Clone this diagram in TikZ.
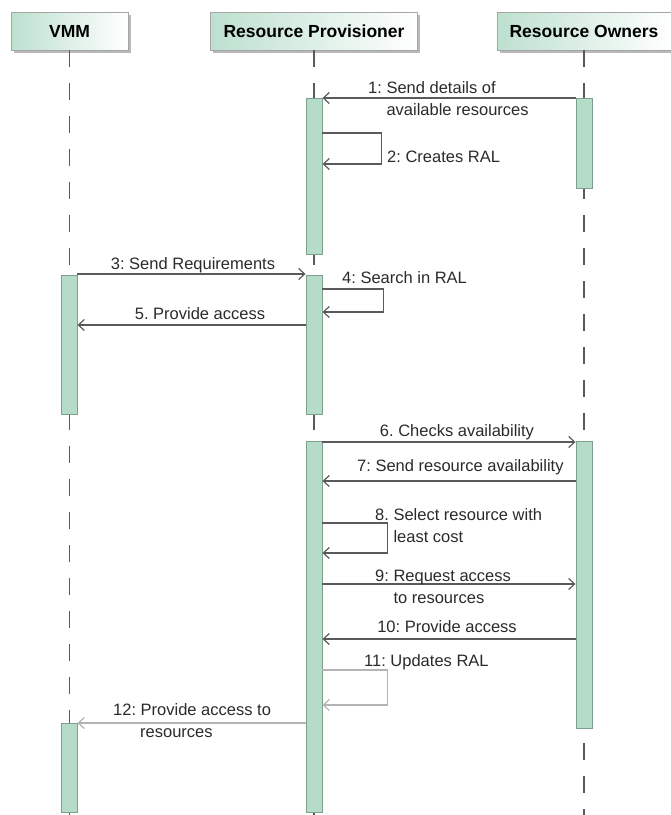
\documentclass[tikz,border=0pt]{standalone}
\usepackage{fontspec}
\setmainfont{Liberation Sans}
\usetikzlibrary{arrows.meta,shadows}
\definecolor{barfill}{HTML}{B5DCC8}
\definecolor{barline}{HTML}{7E9E8E}
\definecolor{headfill}{HTML}{BDE0CF}
\definecolor{msgline}{HTML}{5A5A5A}
\definecolor{faint}{HTML}{B4B4B4}
\definecolor{txt}{HTML}{2A2A2A}
\frenchspacing
\begin{document}
\begin{tikzpicture}[x=1pt,y=-1pt,
 head/.style={draw=gray!70, left color=headfill, right color=white, minimum height=38pt, inner sep=0pt,
   font=\fontsize{17.5}{20}\selectfont\bfseries,
   drop shadow={shadow xshift=2.5pt,shadow yshift=-2.5pt,fill=gray!55,opacity=1}},
 life/.style={draw=msgline, line width=1.2pt, dash pattern=on 17pt off 16pt},
 bar/.style={draw=barline, fill=barfill, line width=0.9pt, minimum width=16pt, inner sep=0pt, anchor=north},
 msg/.style={draw=msgline, line width=1.4pt, -{Straight Barb[length=6pt,width=11pt,line width=1.2pt]}},
 faintmsg/.style={msg, draw=faint},
 lbl/.style={font=\fontsize{16.5}{22}\selectfont\frenchspacing, text=txt, inner sep=0pt},
]
\useasboundingbox (0,0) rectangle (671,815);
% headers
\node[head, minimum width=117pt] (vmm) at (69.5,31) {VMM};
\node[head, minimum width=207pt] (rp) at (314,31) {Resource Provisioner};
\node[head, minimum width=174pt] (ro) at (584,31) {Resource Owners};
% bottom
\coordinate (bottom) at (0,815);
% lifelines
\draw[life] (vmm.south) -- (vmm.south |- bottom);
\draw[life] (rp.south) -- (rp.south |- bottom);
\draw[life] (ro.south) -- (ro.south |- bottom);
% activation bars
\node[bar, minimum height=156pt] (rpA) at (314,98) {};
\node[bar, minimum height=90pt] (roA) at (584,98) {};
\node[bar, minimum height=139pt] (vmA) at (69,275) {};
\node[bar, minimum height=139pt] (rpB) at (314,275) {};
\node[bar, minimum height=371pt] (rpC) at (314,441) {};
\node[bar, minimum height=287pt] (roB) at (584,441) {};
\node[bar, minimum height=89pt] (vmB) at (69,723) {};
% message levels
\coordinate (y2a) at (0,133); \coordinate (y2b) at (0,164);
\coordinate (y3) at (0,274);
\coordinate (y4a) at (0,289); \coordinate (y4b) at (0,312);
\coordinate (y5) at (0,325);
\coordinate (y6) at (0,442);
\coordinate (y7) at (0,481);
\coordinate (y8a) at (0,523); \coordinate (y8b) at (0,553);
\coordinate (y9) at (0,584);
\coordinate (y10) at (0,639);
\coordinate (y11a) at (0,670); \coordinate (y11b) at (0,705);
% 1
\draw[msg] (roA.north west) -- (rpA.north east);
\node[lbl, anchor=west, align=left] (l1) at (368,99) {1: Send details of\\\hphantom{1: }available resources};
% 2
\draw[msg] (rpA.east |- y2a) -- ++(59,0) |- (rpA.east |- y2b);
\node[lbl, anchor=west] (l2) at (387,157) {2: Creates RAL};
% 3
\draw[msg] (vmA.east |- y3) -- (rpB.west |- y3);
\node[lbl] (l3) at (193,265) {3: Send Requirements};
% 4
\draw[msg] (rpB.east |- y4a) -- ++(61,0) |- (rpB.east |- y4b);
\node[lbl, anchor=west] (l4) at (342,278) {4: Search in RAL};
% 5
\draw[msg] (rpB.west |- y5) -- (vmA.east |- y5);
\node[lbl] (l5) at (200,314) {5. Provide access};
% 6
\draw[msg] (rpC.east |- y6) -- (roB.west |- y6);
\node[lbl] (l6) at (457,432) {6. Checks availability};
% 7
\draw[msg] (roB.west |- y7) -- (rpC.east |- y7);
\node[lbl, anchor=west] (l7) at (357,467) {7: Send resource availability};
% 8
\draw[msg] (rpC.east |- y8a) -- ++(65,0) |- (rpC.east |- y8b);
\node[lbl, anchor=west, align=left] (l8) at (375,526) {8. Select resource with\\\hphantom{8. }least cost};
% 9
\draw[msg] (rpC.east |- y9) -- (roB.west |- y9);
\node[lbl, anchor=west, align=left] (l9) at (375,587) {9: Request access\\\hphantom{9: }to resources};
% 10
\draw[msg] (roB.west |- y10) -- (rpC.east |- y10);
\node[lbl] (l10) at (447,627) {10: Provide access};
% 11
\draw[faintmsg] (rpC.east |- y11a) -- ++(65,0) |- (rpC.east |- y11b);
\node[lbl, anchor=west] (l11) at (364,662) {11: Updates RAL};
% 12
\draw[faintmsg] (rpC.west |- vmB.north) -- (vmB.north east);
\node[lbl, anchor=west, align=left] (l12) at (113,721) {12: Provide access to\\\hspace{27pt}resources};
\end{tikzpicture}
\end{document}
